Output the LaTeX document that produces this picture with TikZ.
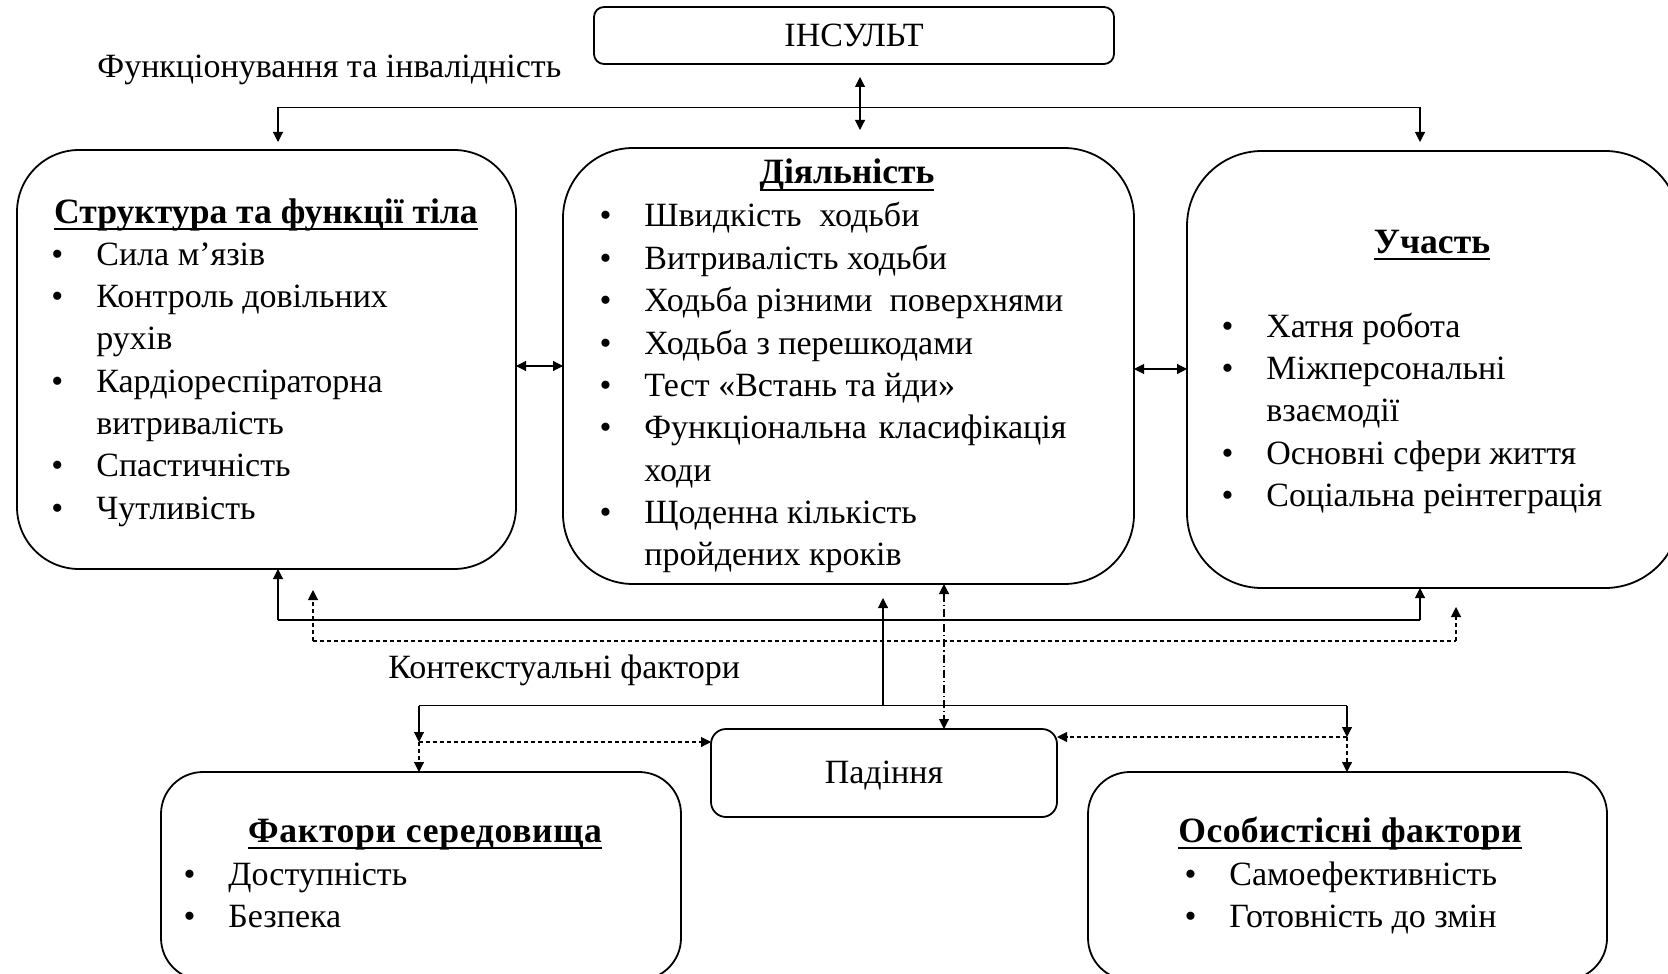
\documentclass[tikz,border=0pt]{standalone}
\usepackage{fontspec}
\setmainfont{Liberation Serif}
\usetikzlibrary{arrows.meta}
\newsavebox\ulbox
\newcommand{\ulx}[1]{\sbox\ulbox{#1}\rlap{\rule[-3.3pt]{\wd\ulbox}{1pt}}\usebox\ulbox}
\newcommand{\bul}{\llap{\textbullet\hspace{16.5pt}}}
\begin{document}
\begin{tikzpicture}[x=0.5pt,y=-0.5pt,
  every node/.style={font=\fontsize{17}{21}\selectfont},
  box/.style={draw=black,line width=0.9pt,rectangle,inner sep=0pt,outer sep=0pt},
  itm/.style={anchor=base west,inner sep=0pt},
  ttl/.style={anchor=base,inner sep=0pt,font=\fontsize{17.8}{21}\selectfont\bfseries},
  ln/.style={draw=black,line width=0.55pt},
  arr/.style={ln,-{Triangle[length=5pt,width=5pt]}},
  biarr/.style={ln,{Triangle[length=5pt,width=5pt]}-{Triangle[length=5pt,width=5pt]}},
  dsh/.style={dash pattern=on 2pt off 1.5pt},
  ddot/.style={dash pattern=on 4pt off 1.5pt on 0.6pt off 1.5pt},
]
\useasboundingbox (0,0) rectangle (1668,973);
\clip (0,0) rectangle (1668,973);

% boxes
\node[box, rounded corners=5pt, minimum width=260pt, minimum height=28.5pt] (ins) at (854,35.5) {ІНСУЛЬТ};
\node[box, rounded corners=31pt, minimum width=249.5pt, minimum height=209.5pt] (body) at (266.5,359.5) {};
\node[box, rounded corners=35pt, minimum width=285.5pt, minimum height=218pt] (act) at (848.5,366) {};
\node[box, rounded corners=37.5pt, minimum width=246.5pt, minimum height=218.5pt] (part) at (1433.5,369.5) {};
\node[box, rounded corners=7.5pt, minimum width=173pt, minimum height=44pt] (fall) at (884,773) {};
\node[box, rounded corners=21pt, minimum width=260pt, minimum height=104pt] (env) at (421,876) {};
\node[box, rounded corners=21pt, minimum width=259.5pt, minimum height=104pt] (pers) at (1347.5,876) {};

% free labels
\node[itm] (lfun) at (97,78) {Функціонування та інвалідність};
\node[itm] (lctx) at (388,678) {Контекстуальні фактори};
\node[anchor=base,inner sep=0pt] (tfall) at (884,783) {Падіння};

% body
\node[ttl] (tbody) at (266,223) {\ulx{Структура та функції тіла}};
\node[itm] (b1) at (96,265) {\bul Сила м’язів};
\node[itm] (b2) at (96,307.3) {\bul Контроль довільних};
\node[itm] (b3) at (96,349.6) {рухів};
\node[itm] (b4) at (96,392) {\bul Кардіореспіраторна};
\node[itm] (b5) at (96,434) {витривалість};
\node[itm] (b6) at (96,476.5) {\bul Спастичність};
\node[itm] (b7) at (96,519) {\bul Чутливість};

% activity
\node[ttl] (tact) at (847,184) {\ulx{Діяльність}};
\node[itm] (a1) at (644,227) {\bul\makebox[137.5pt][s]{Швидкість\hfil{} ходьби}};
\node[itm] (a2) at (644,269.3) {\bul Витривалість ходьби};
\node[itm] (a3) at (644,311.6) {\bul\makebox[209.5pt][s]{Ходьба різними \hfil поверхнями}};
\node[itm] (a4) at (644,354) {\bul Ходьба з перешкодами};
\node[itm] (a5) at (644,396) {\bul Тест «Встань та йди»};
\node[itm] (a6) at (644,438.5) {\bul\makebox[211pt][s]{Функціональна\hfil{} класифікація}};
\node[itm] (a7) at (644,481) {ходи};
\node[itm] (a8) at (644,523) {\bul Щоденна кількість};
\node[itm] (a9) at (644,565.5) {пройдених кроків};

% participation
\node[ttl] (tpart) at (1432,253) {\ulx{Участь}};
\node[itm] (p1) at (1266,337) {\bul Хатня робота};
\node[itm] (p2) at (1266,379.3) {\bul Міжперсональні};
\node[itm] (p3) at (1266,421.6) {взаємодії};
\node[itm] (p4) at (1266,464) {\bul Основні сфери життя};
\node[itm] (p5) at (1266,506) {\bul Соціальна реінтеграція};

% environment
\node[ttl] (tenv) at (425,842) {\addfontfeatures{LetterSpace=2}\ulx{Фактори середовища}};
\node[itm] (e1) at (228,885) {\bul Доступність};
\node[itm] (e2) at (228,927) {\bul Безпека};

% personal
\node[ttl] (tpers) at (1350,842) {\addfontfeatures{LetterSpace=1.2}\ulx{Особистісні фактори}};
\node[itm] (q1) at (1229,885) {\bul Самоефективність};
\node[itm] (q2) at (1229,927) {\bul Готовність до змін};

% top connectors
\coordinate (tl) at (278,107.5);
\coordinate (tr) at (1420,107.5);
\draw[ln] (tl) -- (tr);
\draw[arr, shorten >=4pt] (tl) -- (tl |- body.north);
\draw[arr, shorten >=4.5pt] (tr) -- (tr |- part.north);
\coordinate (va) at (860,0);
\draw[biarr, shorten <=6.5pt, shorten >=9pt] (va |- ins.south) -- (va |- act.north);

% side connectors
\coordinate (h1) at (0,366);
\draw[biarr] (body.east |- h1) -- (act.west |- h1);
\coordinate (h2) at (0,369);
\draw[biarr] (act.east |- h2) -- (part.west |- h2);

% bottom solid
\coordinate (bl) at (278,620);
\coordinate (br) at (1420,620);
\draw[ln] (bl) -- (br);
\draw[arr] (bl) -- (bl |- body.south);
\draw[arr] (br) -- (br |- part.south);

% bottom dashed
\coordinate (dl) at (313,641);
\coordinate (dr) at (1456,641);
\draw[ln,dsh] (dl) -- (dr);
\draw[arr,dsh,shorten >=10.5pt] (dl) -- (dl |- body.south);
\draw[arr,dsh,shorten >=9.5pt] (dr) -- (dr |- part.south);

% contextual
\coordinate (cl) at (419,705.5);
\coordinate (cr) at (1347,705.5);
\draw[ln] (cl) -- (cr);
\coordinate (cm) at (883,705.5);
\draw[arr, shorten >=7pt] (cm) -- (cm |- act.south);
\coordinate (cdl) at (419,742);
\coordinate (cdr) at (1347,737);
\draw[arr] (cl) -- (cdl);
\draw[arr] (cr) -- (cdr);
\draw[arr,dsh] (cdl) -- (fall.west |- cdl);
\draw[arr,dsh] (cdl) -- (cdl |- env.north);
\draw[arr,dsh] (cdr) -- (fall.east |- cdr);
\draw[arr,dsh] (cdr) -- (cdr |- pers.north);
\coordinate (vd) at (944,0);
\draw[biarr,ddot] (vd |- act.south) -- (vd |- fall.north);
\end{tikzpicture}
\end{document}
